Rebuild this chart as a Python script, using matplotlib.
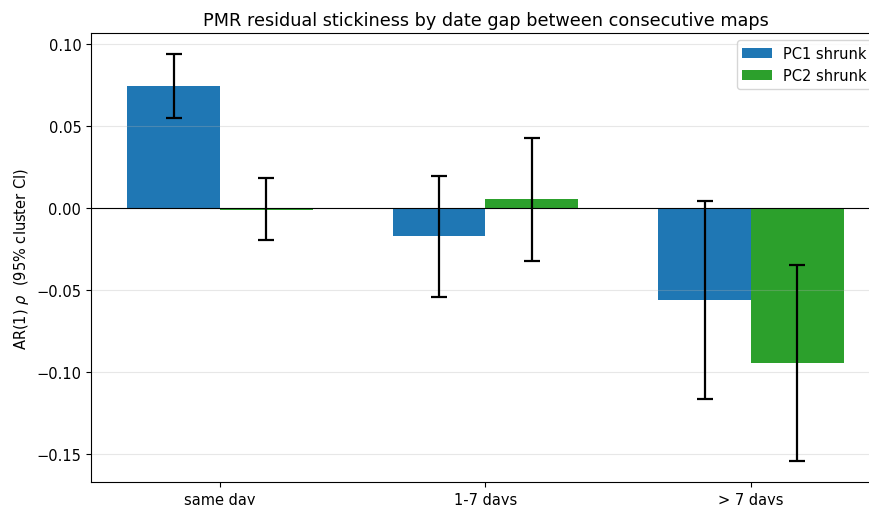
import numpy as np
import matplotlib
matplotlib.use("Agg")
import matplotlib.pyplot as plt

# ---------------------------------------
# Data
# ---------------------------------------
gaps = ["same day", "1-7 days", "> 7 days"]
series = ["PC1 shrunk", "PC2 shrunk"]
colors = ["#1f77b4", "#2ca02c"]

pc1_rho = [0.0744, -0.0171, -0.0561]
pc1_lo = [0.0549, -0.0543, -0.1165]
pc1_hi = [0.0939, 0.0195, 0.0043]

pc2_rho = [-0.0010, 0.0055, -0.0945]
pc2_lo = [-0.0195, -0.0323, -0.1543]
pc2_hi = [0.0183, 0.0427, -0.0348]

# ---------------------------------------
# Plot
# ---------------------------------------
plt.rcParams["font.size"] = 10.5
fig = plt.figure(figsize=(8.7, 5.06), dpi=100)
ax = fig.add_axes([91 / 870, 1 - 483 / 506, 789 / 870, 449 / 506])

x = np.arange(len(gaps))
w = 0.35
for i, (rho, lo, hi) in enumerate([(pc1_rho, pc1_lo, pc1_hi),
                                   (pc2_rho, pc2_lo, pc2_hi)]):
    rho = np.array(rho)
    yerr = [rho - np.array(lo), np.array(hi) - rho]
    ax.bar(x + (i - 0.5) * w, rho, w, yerr=yerr, capsize=5.5,
           color=colors[i], label=series[i],
           error_kw=dict(ecolor="black", elinewidth=1.6, capthick=1.6))

ax.axhline(0, color="black", lw=0.8)
ax.set_xticks(x)
ax.set_xticklabels(gaps)
ax.set_ylabel(r"AR(1) $\rho$  (95% cluster CI)")
ax.set_title("PMR residual stickiness by date gap between consecutive maps",
             fontsize=12.7)
ax.grid(axis="y", alpha=0.3)
ax.set_ylim(-0.167, 0.1067)
ax.set_xlim(-0.486, 2.486)
ax.legend(loc="upper right")

fig.savefig("out.png", dpi=100)
